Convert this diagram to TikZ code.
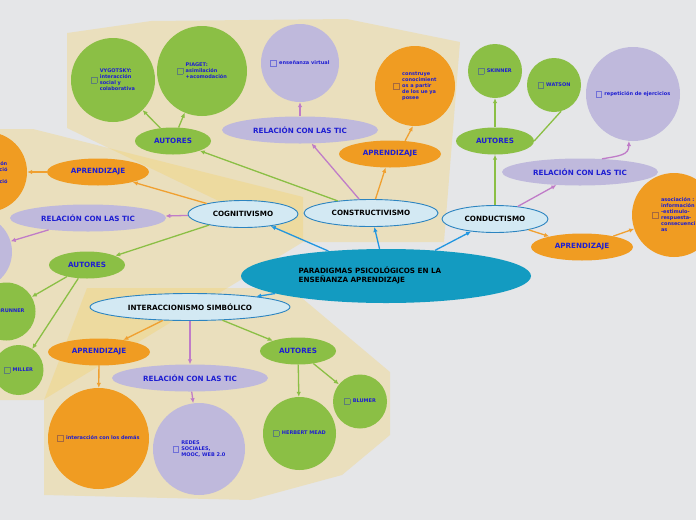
\documentclass[tikz,border=0pt]{standalone}
\usepackage{fontspec}
\setsansfont{DejaVu Sans}
\usepackage{tikz}
\usetikzlibrary{arrows.meta,shapes.geometric}
\usepackage{xcolor}

\definecolor{bggray}{HTML}{E5E6E8}
\definecolor{zonecol}{HTML}{F6CF5C}
\definecolor{orng}{HTML}{F09C22}
\definecolor{grn}{HTML}{8BBF45}
\definecolor{lav}{HTML}{BFB9DC}
\definecolor{pale}{HTML}{D3E9F3}
\definecolor{rim}{HTML}{2C84C0}
\definecolor{hubcol}{HTML}{139BC1}
\definecolor{ink}{HTML}{1E1ED2}
\definecolor{arrblue}{HTML}{2196E0}
\definecolor{arrpink}{HTML}{C07CC8}
\definecolor{arrorg}{HTML}{F0A030}
\definecolor{arrgrn}{HTML}{8BBF45}
\definecolor{chkgrn}{HTML}{5D7F78}
\definecolor{chkorg}{HTML}{A5683F}
\definecolor{chklav}{HTML}{7070D8}

\newcommand{\tagfont}{\sffamily\bfseries\fontsize{7.2}{9}\selectfont}
\newcommand{\bubfont}{\sffamily\bfseries\fontsize{5}{6}\selectfont}
\newcommand{\chk}[1]{{\color{#1}\setlength\fboxsep{0pt}\setlength\fboxrule{0.6pt}\raisebox{-1.3pt}{\fbox{\rule{0pt}{5pt}\rule{5pt}{0pt}}}}}
\newcommand{\bubtxt}[2]{\makebox[0pt]{\chk{#1}\hspace{2.5pt}\begin{tabular}[c]{@{}l@{}}#2\end{tabular}}}

\begin{document}
\begin{tikzpicture}[x=1pt,y=-1pt,
zone/.style={fill=zonecol,fill opacity=0.3},
paradigm/.style={ellipse,draw=rim,line width=0.9pt,fill=pale,inner sep=0pt,minimum height=27pt,font=\tagfont,text=black},
hub/.style={ellipse,fill=hubcol,inner sep=0pt,minimum width=290pt,minimum height=54pt,font=\tagfont,text=black},
pill/.style={ellipse,inner sep=0pt,minimum height=27pt,font=\tagfont,text=ink},
apr/.style={pill,fill=orng,minimum width=102pt},
aut/.style={pill,fill=grn,minimum width=76pt},
tic/.style={pill,fill=lav,minimum width=156pt},
bub/.style={circle,inner sep=0pt,minimum size=#1,font=\bubfont,text=ink},
arr/.style={-{Latex[length=5pt,width=4.5pt]},line width=1.3pt}
]
\useasboundingbox (0,0) rectangle (696,520);
\clip (0,0) rectangle (696,520);
\fill[bggray] (0,0) rectangle (696,520);

\fill[zone] (67,33) -- (151,21) -- (347,19) -- (460,42) -- (444,242) -- (304,242) -- (67,128) -- cycle;
\fill[zone] (0,129) -- (33,129) -- (303,197) -- (303,242) -- (43,400) -- (0,400) -- cycle;
\fill[zone] (44,495) -- (44,400) -- (87,288) -- (290,288) -- (390,372) -- (390,435) -- (342,475) -- (250,500) -- cycle;

\node[hub] (paradigm) at (386,276) {\begin{tabular}{@{}l@{\hspace{32pt}}}PARADIGMAS PSICOLÓGICOS EN LA\\ENSEÑANZA APRENDIZAJE\end{tabular}};
\node[paradigm,minimum width=110pt] (cogn) at (243,214) {COGNITIVISMO};
\node[paradigm,minimum width=134pt] (cons) at (371,213) {CONSTRUCTIVISMO};
\node[paradigm,minimum width=106pt] (cond) at (495,219) {CONDUCTISMO};
\node[paradigm,minimum width=200pt] (inter) at (190,307) {INTERACCIONISMO SIMBÓLICO};

\node[aut] (consaut) at (173,141) {AUTORES};
\node[tic] (constic) at (300,130) {RELACIÓN CON LAS TIC};
\node[apr] (consapr) at (390,154) {APRENDIZAJE};
\node[bub=84pt,fill=grn] (vyg) at (113,80) {\bubtxt{chkgrn}{VYGOTSKY:\\interacción\\social y\\colaborativa}};
\node[bub=90pt,fill=grn] (piaget) at (202,71) {\bubtxt{chkgrn}{PIAGET:\\asimilación\\+acomodación}};
\node[bub=78pt,fill=lav] (virtual) at (300,63) {\bubtxt{chklav}{enseñanza virtual}};
\node[bub=80pt,fill=orng] (build) at (415,86) {\bubtxt{chkorg}{construye\\conocimient\\os a partir\\de los ue ya\\posee}};

\node[aut,minimum width=78pt] (condaut) at (495,141) {AUTORES};
\node[tic] (condtic) at (580,172) {RELACIÓN CON LAS TIC};
\node[apr] (condapr) at (582,247) {APRENDIZAJE};
\node[bub=54pt,fill=grn] (skinner) at (495,71) {\bubtxt{chkgrn}{SKINNER}};
\node[bub=54pt,fill=grn] (watson) at (554,85) {\bubtxt{chkgrn}{WATSON}};
\node[bub=94pt,fill=lav] (drill) at (633,94) {\bubtxt{chklav}{repetición de ejercicios}};
\node[bub=84pt,fill=orng] (assoc) at (674,215) {\bubtxt{chkorg}{asociación :\\información\\-estimulo-\\respuesta-\\consecuenci\\as}};

\node[apr] (cognapr) at (98,172) {APRENDIZAJE};
\node[tic] (cogntic) at (88,218) {RELACIÓN CON LAS TIC};
\node[aut] (cognaut) at (87,265) {AUTORES};
\node[bub=80pt,fill=orng] (process) at (-13,172) {\raisebox{-6pt}[0pt][0pt]{\bubtxt{chkorg}{adquisición\\construcció\\n y\\organizació\\n mental}}};
\node[bub=74pt,fill=lav] (cognweb) at (-25,252) {};
\node[bub=58pt,fill=grn] (brunner) at (6.5,311.5) {\bubtxt{chkgrn}{BRUNNER}};
\node[bub=50pt,fill=grn] (miller) at (18.5,370) {\bubtxt{chkgrn}{MILLER}};

\node[apr] (interapr) at (99,352) {APRENDIZAJE};
\node[tic] (intertic) at (190,378) {RELACIÓN CON LAS TIC};
\node[aut] (interaut) at (298,351) {AUTORES};
\node[bub=101pt,fill=orng] (social) at (98.5,438.5) {\bubtxt{chkorg}{interacción con los demás}};
\node[bub=92pt,fill=lav] (networks) at (199,449) {\bubtxt{chklav}{REDES\\SOCIALES,\\MOOC, WEB 2.0}};
\node[bub=73pt,fill=grn] (mead) at (299.5,433.5) {\bubtxt{chkgrn}{HERBERT MEAD}};
\node[bub=54pt,fill=grn] (blumer) at (360,401.5) {\bubtxt{chkgrn}{BLUMER}};

\draw[arr,arrblue] (paradigm) -- (cogn);
\draw[arr,arrblue] (paradigm) -- (cons);
\draw[arr,arrblue] (paradigm) -- (cond);
\draw[arr,arrblue] (paradigm) -- (inter);

\draw[arr,arrorg] (cogn) -- (cognapr);
\draw[arr,arrpink] (cogn) -- (cogntic);
\draw[arr,arrgrn] (cogn) -- (cognaut);
\draw[arr,arrorg] (cognapr) -- (process);
\draw[arr,arrpink] (cogntic) -- (cognweb);
\draw[arr,arrgrn] (cognaut) -- (brunner);
\draw[arr,arrgrn] (cognaut) -- (miller);

\draw[arr,arrgrn] (cons) -- (consaut);
\draw[arr,arrpink] (cons) -- (constic);
\draw[arr,arrorg] (cons) -- (consapr);
\draw[arr,arrgrn] (consaut) -- (vyg);
\draw[arr,arrgrn] (consaut) -- (piaget);
\draw[arr,arrpink] (constic) -- (virtual);
\draw[arr,arrorg] (consapr.41) -- (build.-93);

\draw[arr,arrgrn] (cond) -- (condaut);
\draw[arr,arrpink] (cond) -- (condtic);
\draw[arr,arrorg] (cond) -- (condapr);
\draw[arr,arrgrn] (condaut) -- (skinner);
\draw[line width=1.3pt,arrgrn] (condaut.east) -- (watson.-75);
\draw[arr,arrpink] (condtic.31) .. controls +(18,-3) and +(0,14) .. (drill.-95);
\draw[arr,arrorg] (condapr) -- (assoc);

\draw[arr,arrorg] (inter) -- (interapr);
\draw[arr,arrpink] (inter) -- (intertic);
\draw[arr,arrgrn] (inter) -- (interaut);
\draw[arr,arrorg] (interapr) -- (social);
\draw[arr,arrpink] (intertic) -- (networks);
\draw[arr,arrgrn] (interaut) -- (mead);
\draw[arr,arrgrn] (interaut) -- (blumer);
\end{tikzpicture}
\end{document}
